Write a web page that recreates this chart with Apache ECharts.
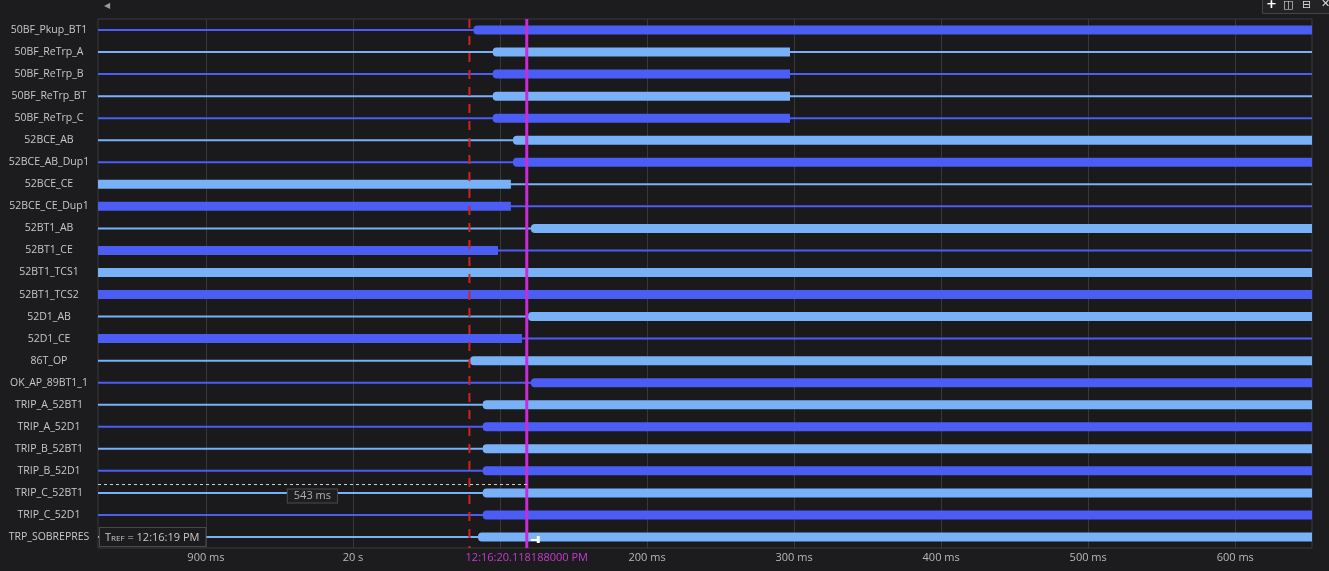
<!DOCTYPE html>
<html><head><meta charset="utf-8">
<script src="https://cdn.jsdelivr.net/npm/echarts@6/dist/echarts.min.js"></script>
<style>html,body{margin:0;padding:0;background:#1c1c1e;}#c{width:1329px;height:571px;}</style>
</head><body><div id="c"></div>
<script>
// ---- data ----
const signals = ['50BF_Pkup_BT1','50BF_ReTrp_A','50BF_ReTrp_B','50BF_ReTrp_BT','50BF_ReTrp_C',
  '52BCE_AB','52BCE_AB_Dup1','52BCE_CE','52BCE_CE_Dup1','52BT1_AB','52BT1_CE','52BT1_TCS1','52BT1_TCS2',
  '52D1_AB','52D1_CE','86T_OP','OK_AP_89BT1_1','TRIP_A_52BT1','TRIP_A_52D1','TRIP_B_52BT1','TRIP_B_52D1',
  'TRIP_C_52BT1','TRIP_C_52D1','TRP_SOBREPRES'];
// ms relative to 12:16:20.000 ; null = from start of view / to end of view
const highStart = [81.9, 95.0, 95.0, 95.0, 95.0, 108.8, 108.8, null, null, 121.0, null, null, null,
  119.0, null, 79.6, 121.0, 88.2, 88.2, 88.2, 88.2, 88.2, 88.2, 85.0];
const highEnd = [null, 297.2, 297.2, 297.2, 297.2, null, null, 107.4, 107.4, null, 98.6, null, null,
  null, 114.9, null, null, null, null, null, null, null, null, null];
const gridTicks = [-100, 0, 100, 200, 300, 400, 500, 600];
const tickLabels = ['900 ms', '20 s', '100 ms', '200 ms', '300 ms', '400 ms', '500 ms', '600 ms'];
const triggerTime = 79.2;
const cursorTime = 118.188;
const cursorLabel = '12:16:20.118188000 PM';
const trefLabel = '12:16:19 PM';
const measureLabel = '543 ms';
const measureRow = 21;
const xMin = -173.4, xMax = 652.2;

const DARK = '#4b5df5', LIGHT = '#78b1f7';
const FONT = 'Open Sans';

const chart = echarts.init(document.getElementById('c'));

const rowData = signals.map((s, i) => [i, highStart[i] == null ? xMin : highStart[i], highEnd[i] == null ? xMax : highEnd[i]]);

function renderRow(params, api) {
  const i = api.value(0);
  const s = api.value(1), e = api.value(2);
  const color = i % 2 === 0 ? DARK : LIGHT;
  const cs = params.coordSys;
  const y = api.coord([xMin, i])[1];
  const xs = api.coord([s, i])[0], xe = api.coord([e, i])[0];
  const rl = s > xMin ? 4 : 0;
  return { type: 'group', children: [
    { type: 'rect', shape: { x: cs.x, y: y - 1, width: cs.width, height: 2 }, style: { fill: color } },
    { type: 'rect', shape: { x: xs, y: y - 4.5, width: xe - xs, height: 9, r: [rl, 0, 0, rl] }, style: { fill: color } }
  ]};
}
function renderGrid(params, api) {
  const cs = params.coordSys;
  const x = Math.round(api.coord([api.value(0), 0])[0]) + 0.5;
  return { type: 'line', shape: { x1: x, y1: cs.y, x2: x, y2: cs.y + cs.height }, style: { stroke: '#38383b', lineWidth: 1 } };
}
function renderMarker(params, api) {
  const cs = params.coordSys;
  const x = api.coord([api.value(0), 0])[0];
  const kind = api.value(1);
  if (kind === 0) {
    return { type: 'line', shape: { x1: x, y1: cs.y, x2: x, y2: cs.y + cs.height },
      style: { stroke: '#d3221f', lineWidth: 2, lineDash: [9, 8] } };
  }
  return { type: 'line', shape: { x1: x, y1: cs.y, x2: x, y2: cs.y + cs.height },
    style: { stroke: '#c92bd6', lineWidth: 3 } };
}
function renderAnno(params, api) {
  const cs = params.coordSys;
  const xc = api.coord([cursorTime, 0])[0];
  const rh = api.size([0, 1])[1];
  const ym = api.coord([xMin, measureRow])[1] - rh * 0.38;
  const yRowM = api.coord([xMin, measureRow])[1];
  const yLast = api.coord([xMin, signals.length - 1])[1];
  return { type: 'group', children: [
    { type: 'line', shape: { x1: cs.x, y1: ym, x2: xc, y2: ym }, style: { stroke: '#d0d0d0', lineWidth: 1, lineDash: [3, 3] } },
    { type: 'text', x: (cs.x + xc) / 2, y: yRowM + 3, style: { text: measureLabel, align: 'center', verticalAlign: 'middle',
      fill: '#b0b0b0', fontSize: 11, fontFamily: FONT, backgroundColor: '#1e1e20', borderColor: '#4a4a4c', borderWidth: 1, padding: [1, 6, 1, 6] } },
    { type: 'text', x: cs.x + 2, y: yLast, style: { text: '{t|T}{s|REF}{t| = ' + trefLabel + '}', align: 'left', verticalAlign: 'middle',
      backgroundColor: '#1c1c1e', borderColor: '#4a4a4c', borderWidth: 1, padding: [4, 6, 3, 5],
      rich: { t: { fill: '#c8c8c8', fontSize: 11, fontFamily: FONT }, s: { fill: '#c8c8c8', fontSize: 8, fontFamily: FONT, padding: [3, 0, 0, 0] } } } },
    { type: 'rect', shape: { x: xc + 4, y: yLast + 2, width: 7, height: 2 }, style: { fill: '#ffffff' } },
    { type: 'rect', shape: { x: xc + 10, y: yLast - 1, width: 3, height: 7 }, style: { fill: '#ffffff' } }
  ]};
}

const option = {
  backgroundColor: '#1c1c1e',
  animation: false,
  textStyle: { fontFamily: FONT },
  grid: { left: 98, right: 17, top: 19, bottom: 23, show: true, borderColor: '#3a3a3d', borderWidth: 1, backgroundColor: '#1a1a1c' },
  xAxis: {
    type: 'value', min: xMin, max: xMax,
    axisLine: { show: false }, axisTick: { show: false }, splitLine: { show: false },
    axisLabel: {
      customValues: [-100, 0, cursorTime, 200, 300, 400, 500, 600],
      color: '#b8b8b8', fontSize: 11, fontFamily: FONT, margin: 4,
      formatter: v => Math.abs(v - cursorTime) < 0.01 ? '{c|' + cursorLabel + '}' : tickLabels[gridTicks.indexOf(Math.round(v))],
      rich: { c: { color: '#c63bd2', fontSize: 11, fontFamily: FONT } }
    }
  },
  yAxis: {
    type: 'category', data: signals, inverse: true,
    axisLine: { show: false }, axisTick: { show: false }, splitLine: { show: false },
    axisLabel: { color: '#c8c8c8', fontSize: 10.5, fontFamily: FONT, margin: 49, align: 'center' }
  },
  series: [
    { type: 'custom', name: 'grid', z: 1, renderItem: renderGrid, data: gridTicks.map(v => [v]), encode: { x: 0 }, silent: true },
    { type: 'custom', name: 'rows', z: 2, renderItem: renderRow, data: rowData, encode: { x: [1, 2], y: 0 }, clip: true },
    { type: 'custom', name: 'markers', z: 3, renderItem: renderMarker, data: [[triggerTime, 0], [cursorTime, 1]], encode: { x: 0 } },
    { type: 'custom', name: 'anno', z: 4, renderItem: renderAnno, data: [[0]], encode: { x: 0 } }
  ],
  graphic: [
    { type: 'text', left: 104, top: 2, style: { text: '◀', fill: '#9a9a9a', fontSize: 8, fontFamily: 'DejaVu Sans' } },
    { type: 'rect', left: 1262, top: -1, shape: { width: 70, height: 14 }, style: { fill: '#232325', stroke: '#444447' } },
    { type: 'text', left: 1266, top: -2, style: { text: '+', fill: '#ffffff', fontSize: 13, fontWeight: 'bold', fontFamily: 'DejaVu Sans' } },
    { type: 'text', left: 1283, top: 0, style: { text: '◫', fill: '#dddddd', fontSize: 11, fontFamily: 'DejaVu Sans' } },
    { type: 'text', left: 1302, top: 0, style: { text: '⊟', fill: '#dddddd', fontSize: 11, fontFamily: 'DejaVu Sans' } },
    { type: 'text', left: 1321, top: -1, style: { text: '✕', fill: '#dddddd', fontSize: 11, fontFamily: 'DejaVu Sans' } }
  ]
};
chart.setOption(option);
</script>
</body></html>
